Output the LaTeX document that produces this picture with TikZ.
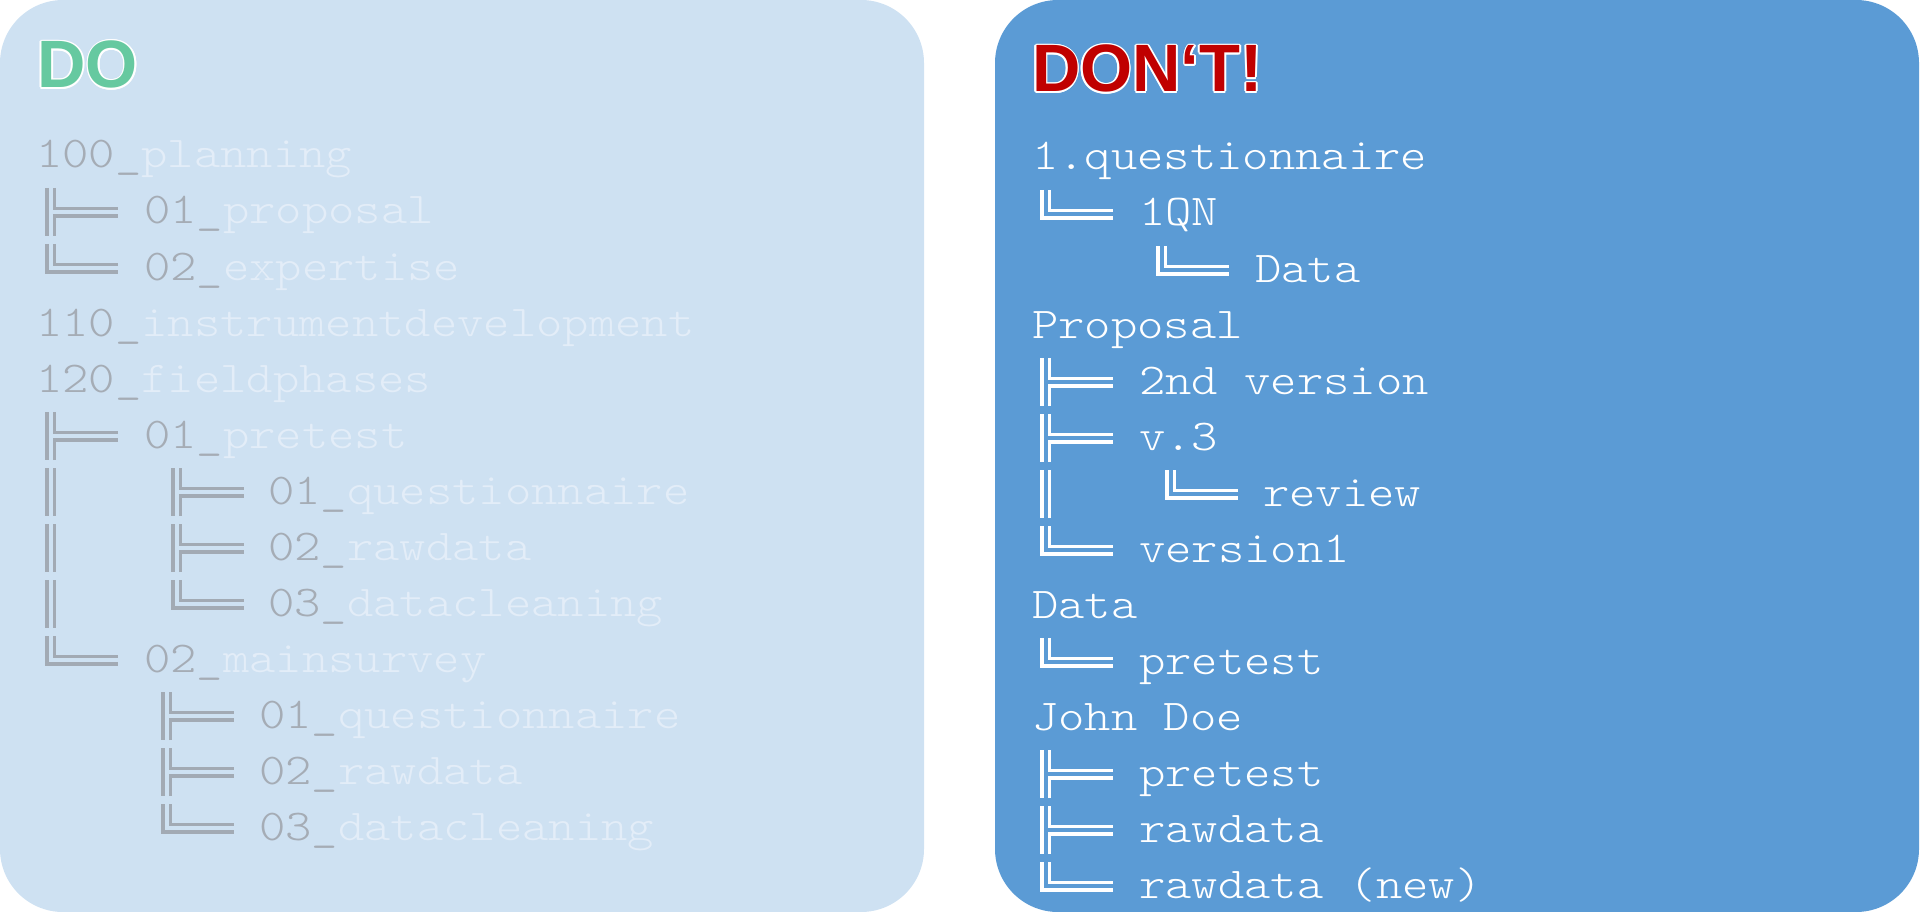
\documentclass[tikz,border=0pt]{standalone}
\usepackage{fontspec}
\setmainfont{Liberation Sans}
\newfontfamily\codefont{lmmonolt10-regular.otf}[FakeStretch=1.14]
\newfontfamily\headfont{Liberation Sans}
\definecolor{leftbg}{HTML}{CEE1F2}
\definecolor{rightbg}{HTML}{5B9BD5}
\definecolor{graytxt}{HTML}{A5ACB5}
\definecolor{lighttxt}{HTML}{E3EDF8}
\definecolor{treegray}{HTML}{A2AAB4}
\definecolor{dogreen}{HTML}{66C9A0}
\definecolor{dontred}{HTML}{C00000}
\tikzset{
  code/.style={anchor=base west, inner sep=0pt, outer sep=0pt, font=\codefont\fontsize{44}{44}\selectfont},
  head/.style={anchor=base west, inner sep=0pt, outer sep=0pt, font=\headfont\bfseries\fontsize{67}{67}\selectfont},
  treeline/.style={line width=3.2pt, line cap=butt, line join=miter},
}
% tree glyphs: #1 = x of outer line, #2 = baseline
\newcommand\gTee[2]{%
  \draw[treeline] (#1,#2-36) -- (#1,#2+12);
  \draw[treeline] (#1+7.5,#2-36) -- (#1+7.5,#2-15.5) -- (#1+71,#2-15.5);
  \draw[treeline] (#1+7.5,#2+12) -- (#1+7.5,#2-8) -- (#1+71,#2-8);
}
\newcommand\gEnd[2]{%
  \draw[treeline] (#1,#2-36) -- (#1,#2-8) -- (#1+71,#2-8);
  \draw[treeline] (#1+7.5,#2-36) -- (#1+7.5,#2-15.5) -- (#1+71,#2-15.5);
}
\newcommand\gPipe[2]{%
  \draw[treeline] (#1,#2-36) -- (#1,#2+12);
  \draw[treeline] (#1+7.5,#2-36) -- (#1+7.5,#2+12);
}
\newcommand\outl[5]{% name, x, y, colour, text
  \foreach \a in {0,30,...,330} {
    \node[head, text=white] at ([shift={(\a:1.6)}]#2,#3) {#5};
  }
  \node[head, text=#4] (#1) at (#2,#3) {#5};
}
\begin{document}
\begin{tikzpicture}[x=1pt,y=-1pt]
\useasboundingbox (0,0) rectangle (1920,912);
\fill[leftbg, rounded corners=63pt] (0,0) rectangle (924,912);
\fill[rightbg, rounded corners=63pt] (995,0) rectangle (1919,912);

% ---------- DO ----------
\outl{doTitle}{37.5}{88}{dogreen}{DO}
\begin{scope}[treegray]
\gTee{47}{224}
\gEnd{47}{280}
\gTee{47}{448}
\gPipe{47}{504}
\gPipe{47}{560}
\gPipe{47}{616}
\gTee{173}{504}
\gTee{173}{560}
\gEnd{173}{616}
\gEnd{47}{672}
\gTee{163}{728}
\gTee{163}{784}
\gEnd{163}{840}
\end{scope}
\node[code, text=lighttxt] (l1)  at (36,168)  {{\color{graytxt}100\_}planning};
\node[code, text=lighttxt] (l2)  at (144,224) {{\color{graytxt}01\_}proposal};
\node[code, text=lighttxt] (l3)  at (144,280) {{\color{graytxt}02\_}expertise};
\node[code, text=lighttxt] (l4)  at (36,336)  {{\color{graytxt}110\_}instrumentdevelopment};
\node[code, text=lighttxt] (l5)  at (36,392)  {{\color{graytxt}120\_}fieldphases};
\node[code, text=lighttxt] (l6)  at (144,448) {{\color{graytxt}01\_}pretest};
\node[code, text=lighttxt] (l7)  at (268,504) {{\color{graytxt}01\_}questionnaire};
\node[code, text=lighttxt] (l8)  at (268,560) {{\color{graytxt}02\_}rawdata};
\node[code, text=lighttxt] (l9)  at (268,616) {{\color{graytxt}03\_}datacleaning};
\node[code, text=lighttxt] (l10) at (144,672) {{\color{graytxt}02\_}mainsurvey};
\node[code, text=lighttxt] (l11) at (259,728) {{\color{graytxt}01\_}questionnaire};
\node[code, text=lighttxt] (l12) at (259,784) {{\color{graytxt}02\_}rawdata};
\node[code, text=lighttxt] (l13) at (259,840) {{\color{graytxt}03\_}datacleaning};

% ---------- DON'T ----------
\outl{dontTitle}{1032}{92}{dontred}{DON‘T!}
\begin{scope}[white]
\gEnd{1042}{226}
\gEnd{1158}{282}
\gTee{1042}{394}
\gTee{1042}{450}
\gPipe{1042}{506}
\gEnd{1167}{506}
\gEnd{1042}{562}
\gEnd{1042}{674}
\gTee{1042}{786}
\gTee{1042}{842}
\gEnd{1042}{898}
\end{scope}
\node[code, text=white] (r1)  at (1032,170) {1.questionnaire};
\node[code, text=white] (r2)  at (1139,226) {1QN};
\node[code, text=white] (r3)  at (1255,282) {Data};
\node[code, text=white] (r4)  at (1032,338) {Proposal};
\node[code, text=white] (r5)  at (1139,394) {2nd version};
\node[code, text=white] (r6)  at (1139,450) {v.3};
\node[code, text=white] (r7)  at (1263,506) {review};
\node[code, text=white] (r8)  at (1139,562) {version1};
\node[code, text=white] (r9)  at (1032,618) {Data};
\node[code, text=white] (r10) at (1139,674) {pretest};
\node[code, text=white] (r11) at (1032,730) {John Doe};
\node[code, text=white] (r12) at (1139,786) {pretest};
\node[code, text=white] (r13) at (1139,842) {rawdata};
\node[code, text=white] (r14) at (1139,898) {rawdata (new)};
\end{tikzpicture}
\end{document}
